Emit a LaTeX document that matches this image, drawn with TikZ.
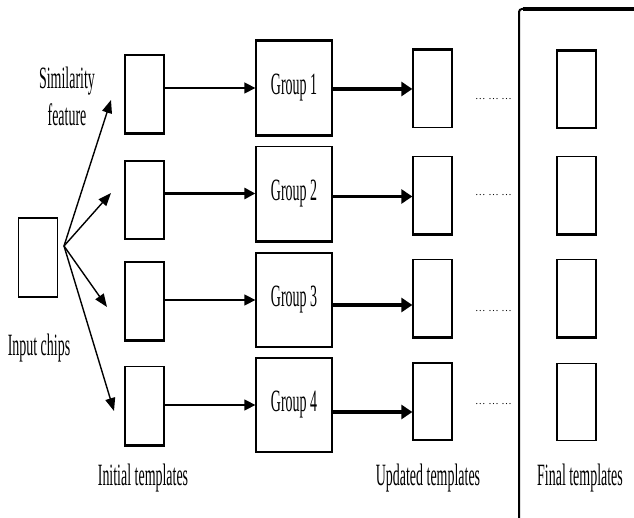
\documentclass[tikz,border=0pt]{standalone}
\usepackage{fontspec}
\setmainfont{Liberation Serif}
\usetikzlibrary{arrows.meta}
\newcommand\cond[1]{\scalebox{0.45}[1]{#1}}
\begin{document}
\begin{tikzpicture}[x=1pt,y=-1pt,
  box/.style={draw,line width=1.3pt,inner sep=0pt,minimum width=39pt,minimum height=78pt},
  grp/.style={draw,line width=1.3pt,inner sep=0pt,minimum width=76pt,minimum height=94pt,font=\fontsize{31}{36}\selectfont},
  lbl/.style={font=\fontsize{31}{37}\selectfont,inner sep=0pt,align=center},
  arr/.style={line width=1.5pt,-{Triangle[length=11pt,width=11pt]}},
  bigarr/.style={-{Triangle[length=11pt,width=14pt]}},
  fanarr/.style={line width=1.4pt,-{Triangle[length=13pt,width=10pt]}},
  heavy/.style={line width=3pt},
  dts/.style={font=\fontsize{10.5}{10.5}\selectfont,inner sep=0pt}]
\useasboundingbox (0,0) rectangle (634,518);

% input chip
\node[box,minimum height=79pt] (in) at (38,257.5) {};

% initial templates
\node[box] (i1) at (144.5,94) {};
\node[box] (i2) at (144.5,200) {};
\node[box] (i3) at (144.5,301) {};
\node[box] (i4) at (144.5,405.5) {};

% groups
\node[grp] (g1) at (294,88) {\cond{Group 1}};
\node[grp] (g2) at (294,193.5) {\cond{Group 2}};
\node[grp] (g3) at (294,300) {\cond{Group 3}};
\node[grp] (g4) at (294,405) {\cond{Group 4}};

% updated templates
\node[box,minimum height=77pt] (u1) at (432.5,89) {};
\node[box,minimum height=77pt] (u2) at (432.5,195) {};
\node[box,minimum height=77pt] (u3) at (432.5,298) {};
\node[box,minimum height=77pt] (u4) at (432.5,401.5) {};

% final templates
\node[box,minimum height=77pt] (f1) at (576.5,89.5) {};
\node[box,minimum height=77pt] (f2) at (576.5,195) {};
\node[box,minimum height=77pt] (f3) at (576.5,298) {};
\node[box,minimum height=77pt] (f4) at (576.5,402) {};

% heavy edges (scan look)
\draw[heavy] (i1.south west) -- (i1.south east);
\draw[heavy] (i3.south west) -- (i3.south east);
\draw[heavy] (i4.south west) -- (i4.south east);
\draw[heavy] (g1.north west) -- (g1.north east);
\draw[heavy] (g1.south west) -- (g1.south east);
\draw[heavy] (g2.south west) -- (g2.south east);
\draw[heavy] (u1.north west) -- (u1.north east);
\draw[heavy] (u2.south west) -- (u2.south east);
\draw[heavy] (u3.south west) -- (u3.south east);
\draw[heavy] (f1.north west) -- (f1.north east);
\draw[heavy] (f2.south west) -- (f2.south east);
\draw[heavy] (f3.south west) -- (f3.south east);

% fan arrows
\coordinate (fan) at (64,246);
\coordinate (t1) at (111,100);
\coordinate (t2) at (111,193);
\coordinate (t3) at (107,307);
\coordinate (t4) at (114,411);
\draw[fanarr] (fan) -- (t1);
\draw[fanarr] (fan) -- (t2);
\draw[fanarr] (fan) -- (t3);
\draw[fanarr] (fan) -- (t4);

% initial -> group
\draw[arr] (i1.east |- g1.west) -- (g1.west);
\draw[arr,line width=3.5pt] (i2.east |- g2.west) -- (g2.west);
\draw[arr] (i3.east |- g3.west) -- (g3.west);
\draw[arr] (i4.east |- g4.west) -- (g4.west);

% group -> updated
\draw[arr,bigarr,line width=4pt] ([yshift=-1pt]g1.east) -- ([yshift=-1pt]u1.west |- g1.east);
\draw[arr,bigarr,line width=3pt] ([yshift=-3pt]g2.east) -- ([yshift=-3pt]u2.west |- g2.east);
\draw[arr,bigarr,line width=4pt] ([yshift=-5pt]g3.east) -- ([yshift=-5pt]u3.west |- g3.east);
\draw[arr,bigarr,line width=3.5pt] ([yshift=-7pt]g4.east) -- ([yshift=-7pt]u4.west |- g4.east);

% dots
\node[dts] (d1) at (493.5,99) {\ldots\ \ldots\ \ldots};
\node[dts] (d2) at (493.5,195) {\ldots\ \ldots\ \ldots};
\node[dts] (d3) at (493.5,311) {\ldots\ \ldots\ \ldots};
\node[dts] (d4) at (493.5,404) {\ldots\ \ldots\ \ldots};

% final frame
\draw[line width=2pt,rounded corners=3pt] (634,9) -- (519,9) -- (519,520);
\draw[line width=3.5pt] (523,9) -- (634,9);

% labels
\node[lbl] (sim) at (67,96) {\cond{Similarity}\\\cond{feature}};
\node[lbl,anchor=base] (inl) at (39,355) {\cond{Input chips}};
\node[lbl,anchor=base] (itl) at (143,485) {\cond{Initial templates}};
\node[lbl,anchor=base] (utl) at (428,485) {\cond{Updated templates}};
\node[lbl,anchor=base] (ftl) at (580,485) {\cond{Final templates}};
\end{tikzpicture}
\end{document}
